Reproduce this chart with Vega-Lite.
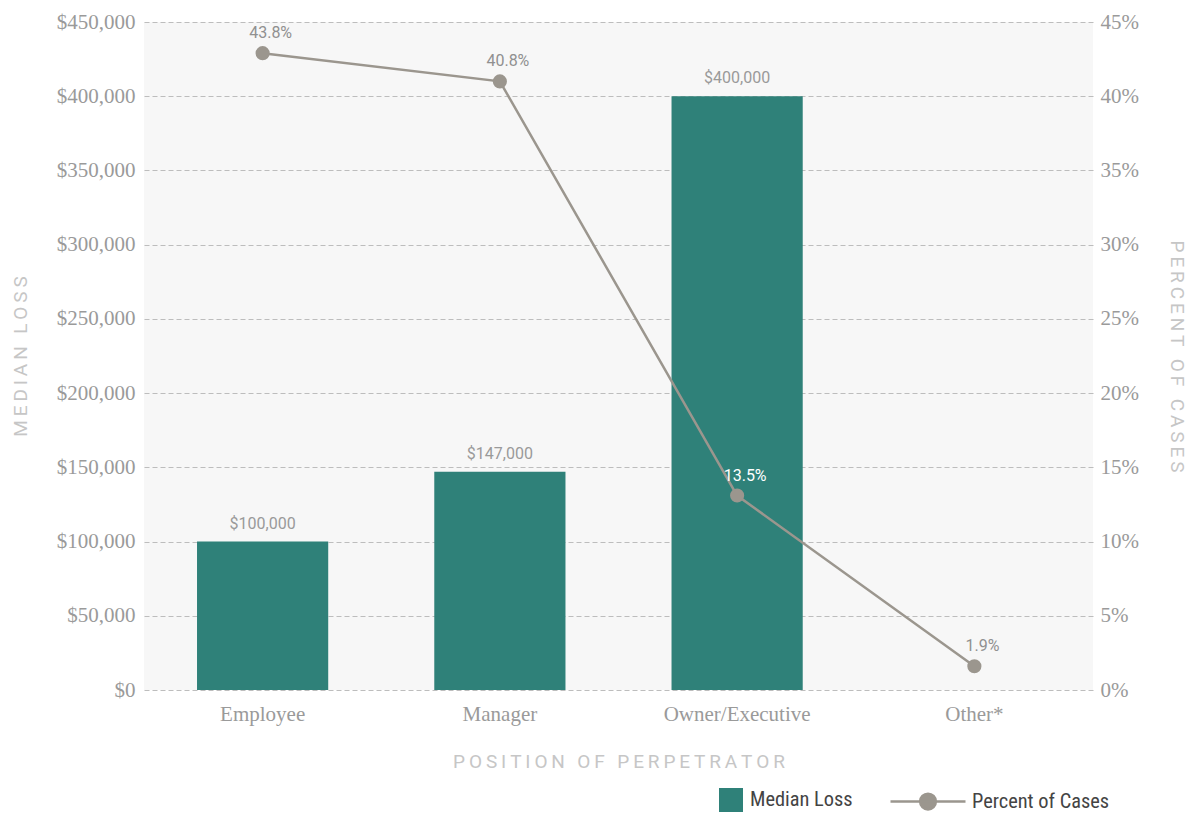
{
  "$schema": "https://vega.github.io/schema/vega-lite/v6.json",
  "width": 949,
  "height": 668,
  "autosize": {"type": "none"},
  "padding": {"left": 144, "top": 22, "right": 101, "bottom": 123},
  "background": "white",
  "view": {"fill": "#f7f7f7", "stroke": null},
  "config": {
    "axis": {
      "labelFont": "Liberation Serif",
      "labelFontSize": 21,
      "labelColor": "#9a9a9a",
      "titleFont": "Roboto",
      "titleFontSize": 19,
      "titleFontWeight": "normal",
      "titleColor": "#c6c6c6",
      "ticks": false,
      "tickSize": 0,
      "domain": false
    },
    "legend": {
      "labelFont": "Liberation Sans Narrow, Roboto Condensed, DejaVu Sans Condensed, sans-serif",
      "labelFontSize": 20.4,
      "labelColor": "#444444",
      "padding": 0
    }
  },
  "data": {
    "values": [
      {"position": "Employee", "loss": 100000, "lossLabel": "$100,000", "pct": 42.9, "pctLabel": "43.8%"},
      {"position": "Manager", "loss": 147000, "lossLabel": "$147,000", "pct": 41.0, "pctLabel": "40.8%"},
      {"position": "Owner/Executive", "loss": 400000, "lossLabel": "$400,000", "pct": 13.1, "pctLabel": "13.5%"},
      {"position": "Other*", "loss": 0, "lossLabel": "", "pct": 1.6, "pctLabel": "1.9%"}
    ]
  },
  "encoding": {
    "x": {
      "field": "position",
      "type": "nominal",
      "sort": null,
      "scale": {"paddingInner": 0.447, "paddingOuter": 0.2235},
      "axis": {
        "title": "P\u2009O\u2009S\u2009I\u2009T\u2009I\u2009O\u2009N\u2009 \u2009O\u2009F\u2009 \u2009P\u2009E\u2009R\u2009P\u2009E\u2009T\u2009R\u2009A\u2009T\u2009O\u2009R",
        "labelAngle": 0,
        "labelPadding": 13,
        "titleY": 71,
        "titleBaseline": "middle",
        "grid": false
      }
    }
  },
  "layer": [
    {
      "layer": [
        {
          "mark": {"type": "bar"},
          "encoding": {
            "y": {
              "field": "loss",
              "type": "quantitative",
              "scale": {"domain": [0, 450000]},
              "axis": {
                "values": [0, 50000, 100000, 150000, 200000, 250000, 300000, 350000, 400000, 450000],
                "format": "$,.0f",
                "grid": true,
                "gridColor": "#bdbdbd",
                "gridDash": [5, 3],
                "gridWidth": 1,
                "labelPadding": 9,
                "title": "M\u2009E\u2009D\u2009I\u2009A\u2009N\u2009 \u2009L\u2009O\u2009S\u2009S",
                "titleX": -124,
                "titleY": 334,
                "titleAngle": -90,
                "titleAlign": "center",
                "titleBaseline": "middle"
              }
            },
            "fill": {
              "datum": "Median Loss",
              "type": "nominal",
              "scale": {"range": ["#2f8179"]},
              "legend": {
                "orient": "none",
                "legendX": 575,
                "legendY": 766,
                "title": null,
                "symbolType": "square",
                "symbolSize": 576,
                "symbolStrokeWidth": 0,
                "labelOffset": 7
              }
            }
          }
        },
        {
          "transform": [{"filter": "datum.loss > 0"}],
          "mark": {"type": "text", "baseline": "bottom", "dy": -10, "font": "Roboto", "fontSize": 16, "color": "#9a9a9a"},
          "encoding": {
            "y": {"field": "loss", "type": "quantitative"},
            "text": {"field": "lossLabel"}
          }
        }
      ]
    },
    {
      "layer": [
        {
          "mark": {"type": "line", "strokeWidth": 2.5},
          "encoding": {
            "y": {
              "field": "pct",
              "type": "quantitative",
              "scale": {"domain": [0, 45]},
              "axis": {
                "orient": "right",
                "values": [0, 5, 10, 15, 20, 25, 30, 35, 40, 45],
                "labelExpr": "datum.value + '%'",
                "grid": false,
                "labelPadding": 7,
                "title": "P\u2009E\u2009R\u2009C\u2009E\u2009N\u2009T\u2009 \u2009O\u2009F\u2009 \u2009C\u2009A\u2009S\u2009E\u2009S",
                "titleX": 83,
                "titleY": 334,
                "titleAngle": 90,
                "titleAlign": "center",
                "titleBaseline": "middle"
              }
            },
            "stroke": {
              "datum": "Percent of Cases",
              "type": "nominal",
              "scale": {"range": ["#9b968e"]},
              "legend": {
                "orient": "none",
                "legendX": 745,
                "legendY": 740.5,
                "title": null,
                "symbolType": "M-1,0H1M0.21,0A0.21,0.21 0 1,1 -0.21,0A0.21,0.21 0 1,1 0.21,0",
                "symbolSize": 5625,
                "symbolStrokeWidth": 2.5,
                "symbolStrokeColor": "#9b968e",
                "symbolFillColor": "#9b968e",
                "labelOffset": 5
              }
            }
          }
        },
        {
          "mark": {"type": "point", "filled": true, "size": 200, "color": "#9b968e", "opacity": 1},
          "encoding": {
            "y": {"field": "pct", "type": "quantitative"}
          }
        },
        {
          "mark": {"type": "text", "baseline": "bottom", "dy": -12, "dx": 8, "font": "Roboto", "fontSize": 16},
          "encoding": {
            "y": {"field": "pct", "type": "quantitative"},
            "text": {"field": "pctLabel"},
            "color": {
              "condition": {"test": "datum.position === 'Owner/Executive'", "value": "#ffffff"},
              "value": "#909090"
            }
          }
        }
      ]
    }
  ],
  "resolve": {"scale": {"y": "independent"}}
}
